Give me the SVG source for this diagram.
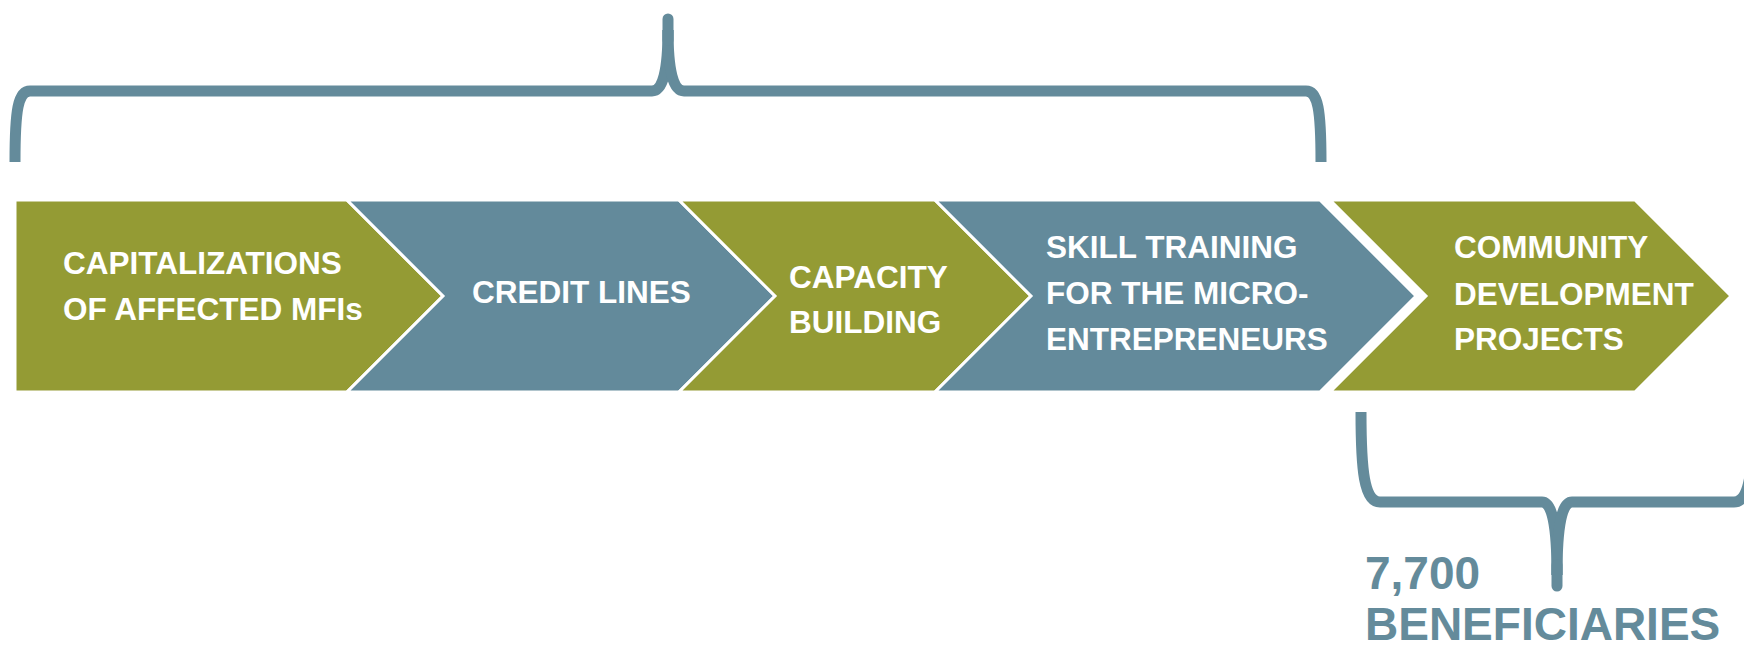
<svg xmlns="http://www.w3.org/2000/svg" width="1744" height="647" viewBox="0 0 1744 647">
  <style>
    .green { fill: #949B34; stroke: #FFFFFF; stroke-width: 3; stroke-linejoin: miter; }
    .blue { fill: #638A9B; stroke: #FFFFFF; stroke-width: 3; stroke-linejoin: miter; }
    .label { font-family: "Liberation Sans", Arial, sans-serif; font-weight: bold; font-size: 31.5px; fill: #FFFFFF; }
    .brace { fill: none; stroke: #648B9B; stroke-width: 11; stroke-linecap: butt; }
    .tip { fill: none; stroke: #648B9B; stroke-width: 11; stroke-linecap: round; }
    .total { font-family: "Liberation Sans", Arial, sans-serif; font-weight: bold; font-size: 46px; fill: #648B9B; }
  </style>
  <rect width="1744" height="647" fill="#FFFFFF"/>

  <g id="connectors">
    <!-- brace spanning the first four stages -->
    <path class="brace" d="M 15 162 C 15 110, 18 91, 30 91 L 652 91 C 663 91, 668 70, 668 30"/>
    <path class="brace" d="M 1321 162 C 1321 110, 1318 91, 1306 91 L 684 91 C 673 91, 668 70, 668 30"/>
    <path class="tip" d="M 668 40 L 668 19"/>
    <!-- brace under the last stage -->
    <path class="brace" stroke-width="10" d="M 1361 412 C 1361 470, 1364 502, 1380 502 L 1542 502 C 1552 502, 1557 525, 1557 575"/>
    <path class="brace" stroke-width="10" d="M 1753 412 C 1753 470, 1750 502, 1734 502 L 1572 502 C 1562 502, 1557 525, 1557 575"/>
    <path class="tip" stroke-width="10" d="M 1557 565 L 1557 586"/>
  </g>

  <g id="stage-capitalizations">
    <polygon class="green" points="15,200 347,200 443,296 347,392 15,392"/>
    <text class="label" x="63" y="274">CAPITALIZATIONS</text>
    <text class="label" x="63" y="320">OF AFFECTED MFIs</text>
  </g>

  <g id="stage-credit-lines">
    <polygon class="blue" points="347,200 679,200 775,296 679,392 347,392 443,296"/>
    <text class="label" x="472" y="303">CREDIT LINES</text>
  </g>

  <g id="stage-capacity-building">
    <polygon class="green" points="679,200 935,200 1031,296 935,392 679,392 775,296"/>
    <text class="label" x="789" y="288">CAPACITY</text>
    <text class="label" x="789" y="333">BUILDING</text>
  </g>

  <g id="stage-skill-training">
    <polygon class="blue" points="935,200 1320,200 1416,296 1320,392 935,392 1031,296"/>
    <text class="label" x="1046" y="258">SKILL TRAINING</text>
    <text class="label" x="1046" y="304">FOR THE MICRO-</text>
    <text class="label" x="1046" y="350">ENTREPRENEURS</text>
  </g>

  <g id="stage-community-development">
    <polygon class="green" points="1330,200 1635,200 1731,296 1635,392 1330,392 1426,296"/>
    <text class="label" x="1454" y="258">COMMUNITY</text>
    <text class="label" x="1454" y="305">DEVELOPMENT</text>
    <text class="label" x="1454" y="350">PROJECTS</text>
  </g>

  <g id="beneficiaries">
    <text class="total" x="1365" y="589">7,700</text>
    <text class="total" x="1365" y="640">BENEFICIARIES</text>
  </g>
</svg>
